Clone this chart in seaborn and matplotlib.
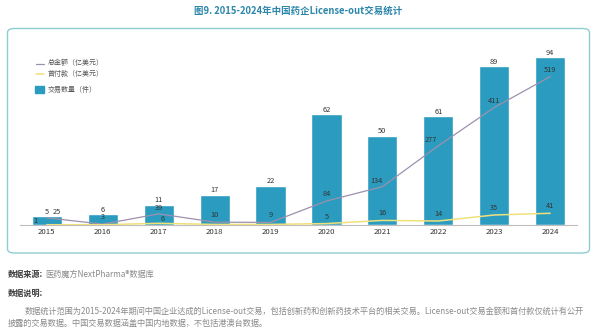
import matplotlib
matplotlib.use("Agg")
import matplotlib.pyplot as plt
import seaborn as sns
import pandas as pd
from matplotlib.patches import FancyBboxPatch, Rectangle
from matplotlib.lines import Line2D

# ---- data ----
years = ["2015", "2016", "2017", "2018", "2019", "2020", "2021", "2022", "2023", "2024"]
deal_count = [5, 6, 11, 17, 22, 62, 50, 61, 89, 94]            # 交易数量（件）
total_value = [25, 3, 39, 10, 9, 84, 134, 277, 411, 519]        # 总金额（亿美元）
upfront = [1, 1, 6, 2, 2, 5, 16, 14, 35, 41]                    # 首付款（亿美元）
upfront_labels = ["1", "", "6", "", "", "5", "16", "14", "35", "41"]

legend_labels = ["总金额（亿美元）", "首付款（亿美元）", "交易数量（件）"]
title = "图9. 2015-2024年中国药企License-out交易统计"
source_head = "数据来源:"
source_body = "医药魔方NextPharma®数据库"
note_head = "数据说明:"
note_line1 = "数据统计范围为2015-2024年期间中国企业达成的License-out交易，包括创新药和创新药技术平台的相关交易。License-out交易金额和首付款仅统计有公开"
note_line2 = "披露的交易数据。中国交易数据涵盖中国内地数据，不包括港澳台数据。"

df = pd.DataFrame({"year": years, "count": deal_count,
                   "total": total_value, "upfront": upfront})
df["pos"] = range(len(years))

# ---- style ----
sns.set_theme(style="white")
plt.rcParams["font.family"] = ["Noto Sans CJK SC", "DejaVu Sans"]

BAR = "#2b9cc0"
PURPLE = "#9d90ad"
YELLOW = "#efe07c"
NUM = "#333333"
TEAL_TITLE = "#2c87aa"
FRAME = "#8ecdd1"

W, H = 597, 332
fig = plt.figure(figsize=(W / 100, H / 100), dpi=100)
fig.patch.set_facecolor("white")


def fx(px):
    return px / W


def fy(py):
    return 1 - py / H


# rounded frame around the chart area
frame = FancyBboxPatch((fx(7.5), fy(253)), fx(589.5) - fx(7.5), fy(28.5) - fy(253),
                       boxstyle="round,pad=0,rounding_size=0.012",
                       transform=fig.transFigure, facecolor="white",
                       edgecolor=FRAME, linewidth=1.0, zorder=0)
fig.add_artist(frame)

# ---- axes ----
ax_left, ax_right = 20, 577
ax_bottom, ax_top = 225, 46.6
ax = fig.add_axes([fx(ax_left), fy(ax_bottom), fx(ax_right) - fx(ax_left),
                   (ax_bottom - ax_top) / H])
ax.set_facecolor("none")

sns.barplot(data=df, x="year", y="count", color=BAR, width=0.54,
            saturation=1, ax=ax, zorder=2)
ax.set_xlim(-0.48, 9.48)
ax.set_ylim(0, 100)

ax2 = ax.twinx()
sns.lineplot(data=df, x="pos", y="total", color=PURPLE, linewidth=0.9,
             ax=ax2, zorder=3)
sns.lineplot(data=df, x="pos", y="upfront", color=YELLOW, linewidth=1.1,
             ax=ax2, zorder=3)
ax2.set_ylim(0, 624)
ax2.set_xlim(-0.48, 9.48)

for a in (ax, ax2):
    for s in a.spines.values():
        s.set_visible(False)
    a.set_ylabel("")
    a.set_yticks([])
    a.grid(False)
ax2.set_xlabel("")
ax.set_xlabel("")
ax.spines["bottom"].set_visible(True)
ax.spines["bottom"].set_color("#bdbdbd")
ax.spines["bottom"].set_linewidth(0.8)
ax.tick_params(axis="x", length=0, pad=2.5, labelsize=5.6, labelcolor=NUM)

# value labels: bar counts (px offsets converted to points)
count_off = {2: 5.5}
for i, v in enumerate(deal_count):
    dy = count_off.get(i, 4.3)
    ax.annotate(str(v), (i, v), xytext=(0, dy * 0.72), textcoords="offset points",
                ha="center", va="center", fontsize=5.3, color=NUM, zorder=5)

# value labels: total amount
total_off = {0: (10, 6), 2: (0, 5.5), 6: (-6, 6), 7: (-7, 6), 8: (0, 6.5)}
for i, v in enumerate(total_value):
    dx, dy = total_off.get(i, (0, 7))
    ax2.annotate(str(v), (i, v), xytext=(dx * 0.72, dy * 0.72),
                 textcoords="offset points", ha="center", va="center",
                 fontsize=5.3, color=NUM, zorder=5)

# value labels: upfront payment
up_off = {0: (-11, 3.5), 2: (4, 4)}
for i, (v, lab) in enumerate(zip(upfront, upfront_labels)):
    if not lab:
        continue
    dx, dy = up_off.get(i, (0, 7))
    ax2.annotate(lab, (i, v), xytext=(dx * 0.72, dy * 0.72),
                 textcoords="offset points", ha="center", va="center",
                 fontsize=5.3, color=NUM, zorder=5)

# ---- legend ----
fig.add_artist(Line2D([fx(36), fx(44)], [fy(63.5), fy(63.5)], color=PURPLE,
                      linewidth=0.9, transform=fig.transFigure))
fig.add_artist(Line2D([fx(36), fx(44)], [fy(74), fy(74)], color=YELLOW,
                      linewidth=1.1, transform=fig.transFigure))
fig.add_artist(Rectangle((fx(35), fy(92.7)), fx(44) - fx(35), fy(86) - fy(92.7),
                         color=BAR, transform=fig.transFigure))
for py, lab in zip([63.5, 74, 89.5], legend_labels):
    fig.text(fx(47.5), fy(py), lab, fontsize=5.0, color="#555555",
             ha="left", va="center")

# ---- title and notes ----
fig.text(fx(298.5), fy(10.5), title, fontsize=6.8, fontweight="bold",
         color=TEAL_TITLE, ha="center", va="center")

NOTE_FS = 5.9
fig.text(fx(8), fy(274), source_head, fontsize=NOTE_FS, fontweight="bold",
         color="#3a3a3a", ha="left", va="center")
fig.text(fx(45), fy(274), source_body, fontsize=NOTE_FS, color="#8a8a8a",
         ha="left", va="center")
fig.text(fx(8), fy(293), note_head, fontsize=NOTE_FS, fontweight="bold",
         color="#3a3a3a", ha="left", va="center")
fig.text(fx(25), fy(311.5), note_line1, fontsize=NOTE_FS, color="#8a8a8a",
         ha="left", va="center")
fig.text(fx(8), fy(323.5), note_line2, fontsize=NOTE_FS, color="#8a8a8a",
         ha="left", va="center")

fig.savefig("out.png", dpi=100, facecolor="white")
